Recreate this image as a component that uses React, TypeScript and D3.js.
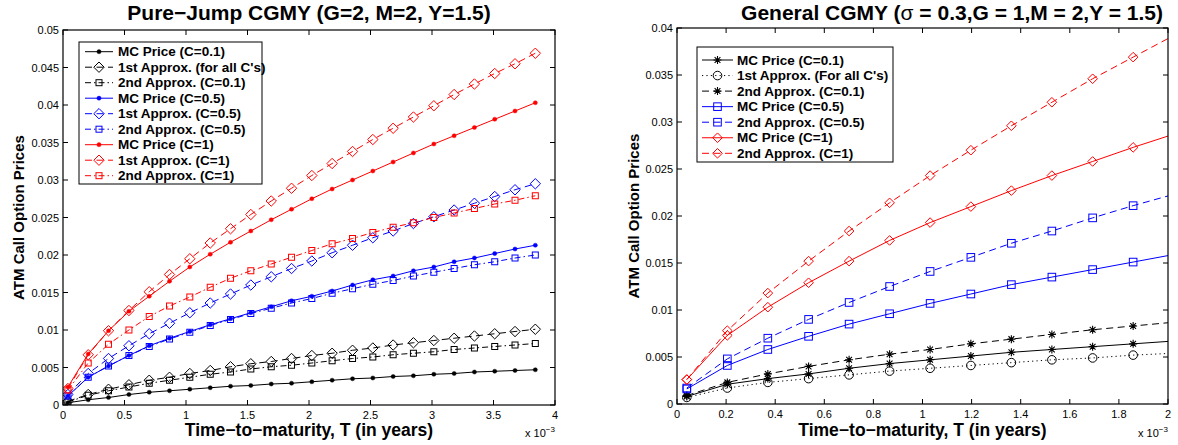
import React from "react";
import * as d3 from "d3";

const FONT = "'Liberation Sans', Arial, Helvetica, sans-serif";

// ---------- data (T in units of 1e-3 years) ----------
const leftT = [0.04, 0.205, 0.37, 0.536, 0.701, 0.866, 1.031, 1.197, 1.362, 1.527, 1.693, 1.858, 2.023, 2.188, 2.354, 2.519, 2.684, 2.849, 3.015, 3.18, 3.345, 3.51, 3.675, 3.84];
const leftMC01 = [0.0003, 0.0007, 0.001, 0.0014, 0.0017, 0.0019, 0.0021, 0.0023, 0.0025, 0.0026, 0.0028, 0.0029, 0.0031, 0.0033, 0.0035, 0.0036, 0.0038, 0.0039, 0.0041, 0.0042, 0.0044, 0.0045, 0.0046, 0.0047];
const left1stAll = [0.0005, 0.0014, 0.0021, 0.0027, 0.0033, 0.0037, 0.0042, 0.0046, 0.0051, 0.0055, 0.0058, 0.0062, 0.0066, 0.0069, 0.0073, 0.0076, 0.008, 0.0083, 0.0086, 0.0089, 0.0092, 0.0095, 0.0098, 0.0101];
const left2nd01 = [0.0004, 0.0013, 0.0019, 0.0024, 0.0029, 0.0033, 0.0037, 0.0041, 0.0044, 0.0048, 0.0051, 0.0053, 0.0056, 0.0059, 0.0062, 0.0064, 0.0067, 0.0069, 0.0071, 0.0074, 0.0076, 0.0078, 0.008, 0.0082];
const leftMC05 = [0.0012, 0.0037, 0.0052, 0.0066, 0.0079, 0.0089, 0.0098, 0.0107, 0.0115, 0.0123, 0.0131, 0.0139, 0.0145, 0.0152, 0.016, 0.0167, 0.0172, 0.0179, 0.0184, 0.0191, 0.0196, 0.0202, 0.0208, 0.0213];
const left1st05 = [0.0014, 0.0042, 0.0062, 0.0079, 0.0095, 0.0109, 0.0123, 0.0136, 0.0148, 0.016, 0.0171, 0.0182, 0.0192, 0.0203, 0.0213, 0.0223, 0.0232, 0.0242, 0.0251, 0.026, 0.0269, 0.0278, 0.0287, 0.0295];
const left2nd05 = [0.0012, 0.0037, 0.0052, 0.0066, 0.0078, 0.0088, 0.0097, 0.0106, 0.0114, 0.0122, 0.0129, 0.0136, 0.0142, 0.0149, 0.0155, 0.0161, 0.0166, 0.0172, 0.0177, 0.0182, 0.0187, 0.0191, 0.0196, 0.02];
const leftMC1 = [0.0024, 0.0068, 0.0099, 0.0125, 0.0145, 0.0165, 0.0184, 0.0201, 0.0217, 0.0232, 0.0247, 0.0261, 0.0275, 0.0288, 0.03, 0.0312, 0.0324, 0.0336, 0.0348, 0.0359, 0.037, 0.0381, 0.0392, 0.0403];
const left1st1 = [0.0022, 0.0067, 0.0099, 0.0126, 0.0151, 0.0174, 0.0195, 0.0216, 0.0235, 0.0254, 0.0272, 0.0289, 0.0306, 0.0322, 0.0338, 0.0354, 0.0369, 0.0384, 0.0399, 0.0414, 0.0428, 0.0442, 0.0455, 0.0469];
const left2nd1 = [0.002, 0.0056, 0.0081, 0.01, 0.0118, 0.0132, 0.0144, 0.0157, 0.0169, 0.0179, 0.0188, 0.0197, 0.0206, 0.0215, 0.0222, 0.023, 0.0237, 0.0243, 0.025, 0.0256, 0.0262, 0.0268, 0.0273, 0.0279];

const rightT = [0.04, 0.205, 0.37, 0.536, 0.701, 0.866, 1.031, 1.197, 1.362, 1.527, 1.693, 1.858, 2.023];
const rightMC01 = [0.0008, 0.0021, 0.0027, 0.0032, 0.0038, 0.0043, 0.0047, 0.0051, 0.0055, 0.0058, 0.0061, 0.0064, 0.0067];
const right1stAll = [0.0007, 0.0017, 0.0023, 0.0027, 0.0031, 0.0035, 0.0038, 0.0041, 0.0044, 0.0047, 0.0049, 0.0052, 0.0054];
const right2nd01 = [0.0009, 0.0023, 0.0032, 0.004, 0.0047, 0.0053, 0.0058, 0.0064, 0.0069, 0.0074, 0.0079, 0.0083, 0.0087];
const rightMC05 = [0.0016, 0.0041, 0.0058, 0.0072, 0.0085, 0.0096, 0.0107, 0.0117, 0.0127, 0.0135, 0.0143, 0.0151, 0.0159];
const right2nd05 = [0.0017, 0.0048, 0.007, 0.009, 0.0108, 0.0125, 0.0141, 0.0156, 0.0171, 0.0184, 0.0198, 0.0211, 0.0223];
const rightMC1 = [0.0026, 0.0073, 0.0103, 0.0129, 0.0152, 0.0174, 0.0193, 0.021, 0.0227, 0.0243, 0.0258, 0.0273, 0.0287];
const right2nd1 = [0.0026, 0.0078, 0.0118, 0.0152, 0.0184, 0.0214, 0.0243, 0.027, 0.0296, 0.0321, 0.0346, 0.0369, 0.0392];

const leftXTicks = [0, 0.5, 1, 1.5, 2, 2.5, 3, 3.5, 4];
const leftYTicks = [0, 0.005, 0.01, 0.015, 0.02, 0.025, 0.03, 0.035, 0.04, 0.045, 0.05];
const rightXTicks = [0, 0.2, 0.4, 0.6, 0.8, 1, 1.2, 1.4, 1.6, 1.8, 2];
const rightYTicks = [0, 0.005, 0.01, 0.015, 0.02, 0.025, 0.03, 0.035, 0.04];

// ---------- styling ----------
type MarkerType = "dot" | "diamond" | "square" | "asterisk" | "circle";
type DashType = "solid" | "dashed" | "dashdot" | "dotted";
interface Series {
  label: string;
  t: number[];
  v: number[];
  color: string;
  dash: DashType;
  marker: MarkerType;
  size: number;
}

const BLACK = "#000000";
const BLUE = "#0000ff";
const RED = "#ff0000";

const DASH: Record<DashType, string | undefined> = {
  solid: undefined,
  dashed: "7,4.5",
  dashdot: "6,3,1.5,3",
  dotted: "1.2,3.2",
};

const leftSeries: Series[] = [
  { label: "MC Price (C=0.1)", t: leftT, v: leftMC01, color: BLACK, dash: "solid", marker: "dot", size: 2.1 },
  { label: "1st Approx. (for all C's)", t: leftT, v: left1stAll, color: BLACK, dash: "dashed", marker: "diamond", size: 5.2 },
  { label: "2nd Approx. (C=0.1)", t: leftT, v: left2nd01, color: BLACK, dash: "dashdot", marker: "square", size: 3 },
  { label: "MC Price (C=0.5)", t: leftT, v: leftMC05, color: BLUE, dash: "solid", marker: "dot", size: 2.1 },
  { label: "1st Approx. (C=0.5)", t: leftT, v: left1st05, color: BLUE, dash: "dashed", marker: "diamond", size: 5.2 },
  { label: "2nd Approx. (C=0.5)", t: leftT, v: left2nd05, color: BLUE, dash: "dashdot", marker: "square", size: 3 },
  { label: "MC Price (C=1)", t: leftT, v: leftMC1, color: RED, dash: "solid", marker: "dot", size: 2.1 },
  { label: "1st Approx. (C=1)", t: leftT, v: left1st1, color: RED, dash: "dashed", marker: "diamond", size: 5.2 },
  { label: "2nd Approx. (C=1)", t: leftT, v: left2nd1, color: RED, dash: "dashdot", marker: "square", size: 3 },
];

const rightSeries: Series[] = [
  { label: "MC Price (C=0.1)", t: rightT, v: rightMC01, color: BLACK, dash: "solid", marker: "asterisk", size: 4 },
  { label: "1st Approx. (For all C's)", t: rightT, v: right1stAll, color: BLACK, dash: "dotted", marker: "circle", size: 4.3 },
  { label: "2nd Approx. (C=0.1)", t: rightT, v: right2nd01, color: BLACK, dash: "dashed", marker: "asterisk", size: 4 },
  { label: "MC Price (C=0.5)", t: rightT, v: rightMC05, color: BLUE, dash: "solid", marker: "square", size: 3.8 },
  { label: "2nd Approx. (C=0.5)", t: rightT, v: right2nd05, color: BLUE, dash: "dashed", marker: "square", size: 3.8 },
  { label: "MC Price (C=1)", t: rightT, v: rightMC1, color: RED, dash: "solid", marker: "diamond", size: 4.8 },
  { label: "2nd Approx. (C=1)", t: rightT, v: right2nd1, color: RED, dash: "dashed", marker: "diamond", size: 4.8 },
];

function Marker({ type, x, y, color, s }: { type: MarkerType; x: number; y: number; color: string; s: number }) {
  switch (type) {
    case "dot":
      return <circle cx={x} cy={y} r={s} fill={color} stroke={color} strokeWidth={0.4} />;
    case "circle":
      return <circle cx={x} cy={y} r={s} fill="none" stroke={color} strokeWidth={1} />;
    case "square":
      return <rect x={x - s} y={y - s} width={2 * s} height={2 * s} fill="none" stroke={color} strokeWidth={1} />;
    case "diamond":
      return <path d={`M${x},${y - s}L${x + s},${y}L${x},${y + s}L${x - s},${y}Z`} fill="none" stroke={color} strokeWidth={1} />;
    case "asterisk": {
      const d = s * 0.72;
      return (
        <path
          d={`M${x - s},${y}L${x + s},${y}M${x},${y - s}L${x},${y + s}M${x - d},${y - d}L${x + d},${y + d}M${x - d},${y + d}L${x + d},${y - d}`}
          stroke={color}
          strokeWidth={1.1}
          fill="none"
        />
      );
    }
  }
  return null;
}

interface PanelCfg {
  id: string;
  l: number; r: number; t: number; b: number;
  xDomain: [number, number];
  yDomain: [number, number];
  xTicks: number[];
  yTicks: number[];
  series: Series[];
  title: React.ReactNode;
  titleX: number;
  legend: { x: number; y: number; w: number; h: number; row0: number; rowStep: number; lineX0: number; lineX1: number; textX: number };
  yLabelX: number;
  expX: number;
}

function fmt(v: number) {
  return v === 0 ? "0" : String(+v.toFixed(4));
}

function Panel({ cfg }: { cfg: PanelCfg }) {
  const x = d3.scaleLinear().domain(cfg.xDomain).range([cfg.l, cfg.r]);
  const y = d3.scaleLinear().domain(cfg.yDomain).range([cfg.b, cfg.t]);
  const line = d3.line<[number, number]>().x((d) => x(d[0])).y((d) => y(d[1]));
  const tl = 5;
  const cx = (cfg.l + cfg.r) / 2;
  const cy = (cfg.t + cfg.b) / 2;
  const lg = cfg.legend;
  return (
    <g>
      <defs>
        <clipPath id={`clip-${cfg.id}`}>
          <rect x={cfg.l} y={cfg.t} width={cfg.r - cfg.l} height={cfg.b - cfg.t} />
        </clipPath>
      </defs>
      <rect x={cfg.l} y={cfg.t} width={cfg.r - cfg.l} height={cfg.b - cfg.t} fill="#fff" />
      <g clipPath={`url(#clip-${cfg.id})`}>
        {cfg.series.map((s, i) => {
          const pts: [number, number][] = s.t.map((t, k) => [t, s.v[k]]);
          return (
            <g key={i}>
              <path d={line(pts) || ""} fill="none" stroke={s.color} strokeWidth={1} strokeDasharray={DASH[s.dash]} />
              {pts
                .filter((p) => p[0] <= cfg.xDomain[1])
                .map((p, k) => (
                  <Marker key={k} type={s.marker} x={x(p[0])} y={y(p[1])} color={s.color} s={s.size} />
                ))}
            </g>
          );
        })}
      </g>
      {/* axes box and ticks */}
      <rect x={cfg.l} y={cfg.t} width={cfg.r - cfg.l} height={cfg.b - cfg.t} fill="none" stroke="#000" strokeWidth={1.2} />
      {cfg.xTicks.map((v, i) => (
        <g key={`xt${i}`}>
          <line x1={x(v)} x2={x(v)} y1={cfg.b} y2={cfg.b - tl} stroke="#000" strokeWidth={1} />
          <line x1={x(v)} x2={x(v)} y1={cfg.t} y2={cfg.t + tl} stroke="#000" strokeWidth={1} />
          <text x={x(v)} y={cfg.b + 14} fontSize={11} textAnchor="middle" fontFamily={FONT}>
            {fmt(v)}
          </text>
        </g>
      ))}
      {cfg.yTicks.map((v, i) => (
        <g key={`yt${i}`}>
          <line x1={cfg.l} x2={cfg.l + tl} y1={y(v)} y2={y(v)} stroke="#000" strokeWidth={1} />
          <line x1={cfg.r} x2={cfg.r - tl} y1={y(v)} y2={y(v)} stroke="#000" strokeWidth={1} />
          <text x={cfg.l - 4} y={y(v) + 4} fontSize={11} textAnchor="end" fontFamily={FONT}>
            {fmt(v)}
          </text>
        </g>
      ))}
      {/* title */}
      <text x={cfg.titleX} y={20} fontSize={21} fontWeight="bold" textAnchor="middle" fontFamily={FONT}>
        {cfg.title}
      </text>
      {/* axis labels */}
      <text x={cx} y={436} fontSize={17.5} fontWeight="bold" textAnchor="middle" fontFamily={FONT}>
        Time−to−maturity, T (in years)
      </text>
      <text
        transform={`translate(${cfg.yLabelX},${cy}) rotate(-90)`}
        fontSize={15}
        fontWeight="bold"
        textAnchor="middle"
        fontFamily={FONT}
      >
        ATM Call Option Prices
      </text>
      <text x={cfg.expX} y={437} fontSize={11} fontFamily={FONT}>
        x 10
        <tspan fontSize={8} dy={-5}>
          −3
        </tspan>
      </text>
      {/* legend */}
      <rect x={lg.x} y={lg.y} width={lg.w} height={lg.h} fill="#fff" stroke="#000" strokeWidth={1} />
      {cfg.series.map((s, i) => {
        const ry = lg.row0 + i * lg.rowStep;
        const mx = (lg.lineX0 + lg.lineX1) / 2;
        return (
          <g key={`lg${i}`}>
            <line x1={lg.lineX0} x2={lg.lineX1} y1={ry} y2={ry} stroke={s.color} strokeWidth={1} strokeDasharray={DASH[s.dash]} />
            <Marker type={s.marker} x={mx} y={ry} color={s.color} s={s.size} />
            <text x={lg.textX} y={ry} dominantBaseline="central" fontSize={13.5} fontWeight="bold" fontFamily={FONT}>
              {s.label}
            </text>
          </g>
        );
      })}
    </g>
  );
}

const leftCfg: PanelCfg = {
  id: "left",
  l: 63, r: 555, t: 30, b: 405,
  xDomain: [0, 4],
  yDomain: [0, 0.05],
  xTicks: leftXTicks,
  yTicks: leftYTicks,
  series: leftSeries,
  title: "Pure−Jump CGMY (G=2, M=2, Y=1.5)",
  titleX: 309,
  legend: { x: 79, y: 42, w: 183, h: 142, row0: 51.7, rowStep: 15.5, lineX0: 85, lineX1: 113, textX: 118 },
  yLabelX: 24,
  expX: 525,
};

const rightCfg: PanelCfg = {
  id: "right",
  l: 677, r: 1168, t: 28, b: 404,
  xDomain: [0, 2],
  yDomain: [0, 0.04],
  xTicks: rightXTicks,
  yTicks: rightYTicks,
  series: rightSeries,
  title: (
    <>
      General CGMY (<tspan fontWeight="normal">σ</tspan> = 0.3,G = 1,M = 2,Y = 1.5)
    </>
  ),
  titleX: 952,
  legend: { x: 697, y: 47, w: 196, h: 115, row0: 60, rowStep: 15.55, lineX0: 702, lineX1: 733, textX: 737 },
  yLabelX: 639,
  expX: 1138,
};

export default function App() {
  return (
    <svg
      width={1178}
      height={445}
      viewBox="0 0 1178 445"
      style={{ position: "fixed", left: 0, top: 0, background: "#fff" }}
    >
      <rect x={0} y={0} width={1178} height={445} fill="#fff" />
      <Panel cfg={leftCfg} />
      <Panel cfg={rightCfg} />
    </svg>
  );
}
